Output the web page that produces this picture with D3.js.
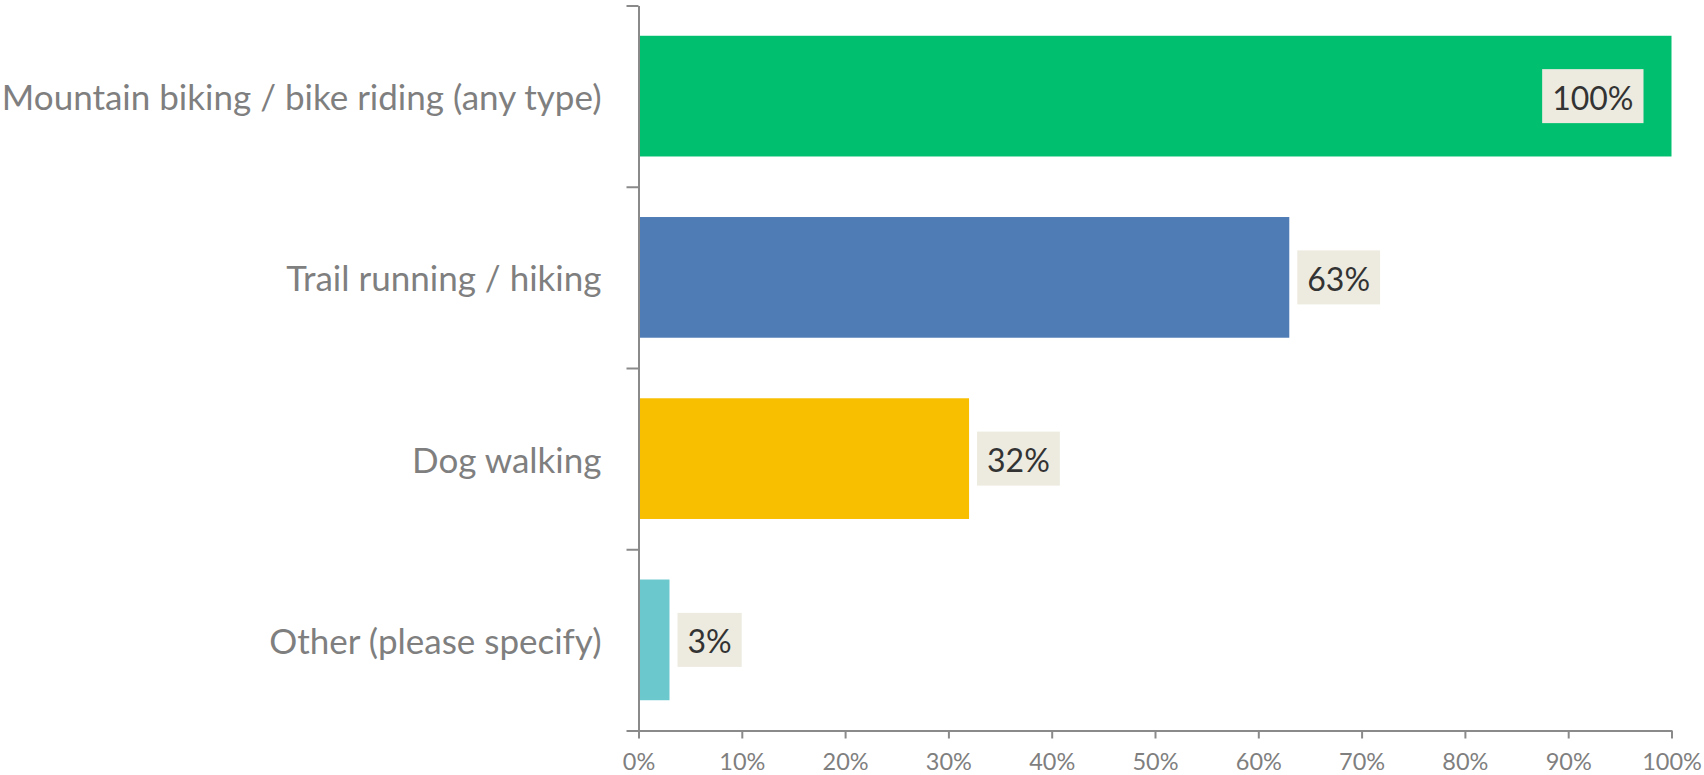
<!DOCTYPE html>
<html>
<head>
<meta charset="utf-8">
<script src="https://cdn.jsdelivr.net/npm/d3@7/dist/d3.min.js"></script>
<style>
  html, body { margin: 0; padding: 0; background: #fff; }
  svg { display: block; }
</style>
</head>
<body>
<svg id="chart" width="1704" height="775"></svg>
<script>
// Activities and share of respondents (%)
const categories = [
  "Mountain biking / bike riding (any type)",
  "Trail running / hiking",
  "Dog walking",
  "Other (please specify)"
];
const values = [100, 63, 32, 3];
const barColors = ["#00BF6F", "#507CB6", "#F8BE00", "#6BC8CD"];
const xTicks = [0, 10, 20, 30, 40, 50, 60, 70, 80, 90, 100];

const W = 1704, H = 775;
const plot = { left: 638.5, right: 1671.5, top: 5.5, bottom: 730.5 };
const FONT = "Lato, 'Open Sans', sans-serif";
const AXIS_GREY = "#8a8a8a";
const TEXT_GREY = "#7f7f7f";

const svg = d3.select("#chart");

const x = d3.scaleLinear().domain([0, 100]).range([plot.left, plot.right]);
const y = d3.scaleBand()
  .domain(categories)
  .range([plot.top, plot.bottom])
  .paddingInner(0.334)
  .paddingOuter(0.167);
// category boundaries for the left-axis ticks
const yEdge = d3.scaleLinear().domain([0, categories.length]).range([plot.top, plot.bottom]);

// bars
svg.append("g").selectAll("rect")
  .data(categories)
  .join("rect")
  .attr("x", plot.left)
  .attr("y", d => y(d))
  .attr("width", (d, i) => x(values[i]) - x(0))
  .attr("height", y.bandwidth())
  .attr("fill", (d, i) => barColors[i]);

// left axis: line plus ticks at category boundaries
const yAxis = svg.append("g")
  .attr("transform", `translate(${plot.left},0)`)
  .call(d3.axisLeft(yEdge)
    .tickValues(d3.range(categories.length + 1))
    .tickFormat("")
    .tickSize(12)
    .tickSizeOuter(0));
yAxis.select(".domain").attr("stroke", AXIS_GREY).attr("stroke-width", 2);
yAxis.selectAll(".tick line").attr("stroke", AXIS_GREY).attr("stroke-width", 2);

// category labels
svg.append("g").selectAll("text")
  .data(categories)
  .join("text")
  .attr("x", plot.left - 37)
  .attr("y", d => y(d) + y.bandwidth() / 2)
  .attr("text-anchor", "end")
  .attr("dominant-baseline", "central")
  .attr("font-family", FONT)
  .attr("font-size", 35)
  .attr("fill", TEXT_GREY)
  .text(d => d);

// bottom axis
const xAxis = svg.append("g")
  .attr("transform", `translate(0,${plot.bottom})`)
  .call(d3.axisBottom(x)
    .tickValues(xTicks)
    .tickFormat(d => d + "%")
    .tickSize(8)
    .tickSizeOuter(0));
xAxis.select(".domain").attr("stroke", AXIS_GREY).attr("stroke-width", 2);
xAxis.selectAll(".tick line").attr("stroke", AXIS_GREY).attr("stroke-width", 2);
xAxis.selectAll(".tick text")
  .attr("y", 31)
  .attr("dy", "0.35em")
  .attr("font-family", FONT)
  .attr("font-size", 23.5)
  .attr("fill", TEXT_GREY);

// value labels in boxes
const fmt = v => d3.format(".0f")(v) + "%";
const labels = svg.append("g").selectAll("g")
  .data(categories)
  .join("g");

labels.each(function (d, i) {
  const g = d3.select(this);
  const cy = y(d) + y.bandwidth() / 2;
  const t = g.append("text")
    .attr("font-family", FONT)
    .attr("font-size", 32)
    .attr("fill", "#333333")
    .attr("dominant-baseline", "central")
    .text(fmt(values[i]));
  const tw = t.node().getComputedTextLength();
  const padX = 10, boxH = 54;
  const boxW = tw + 2 * padX;
  const end = x(values[i]);
  let bx = end + 8;
  if (bx + boxW > plot.right) bx = end - 28 - boxW;
  g.insert("rect", "text")
    .attr("x", bx)
    .attr("y", cy - boxH / 2)
    .attr("width", boxW)
    .attr("height", boxH)
    .attr("fill", "#EDEBE0");
  t.attr("x", bx + padX).attr("y", cy + 1);
});
</script>
</body>
</html>
